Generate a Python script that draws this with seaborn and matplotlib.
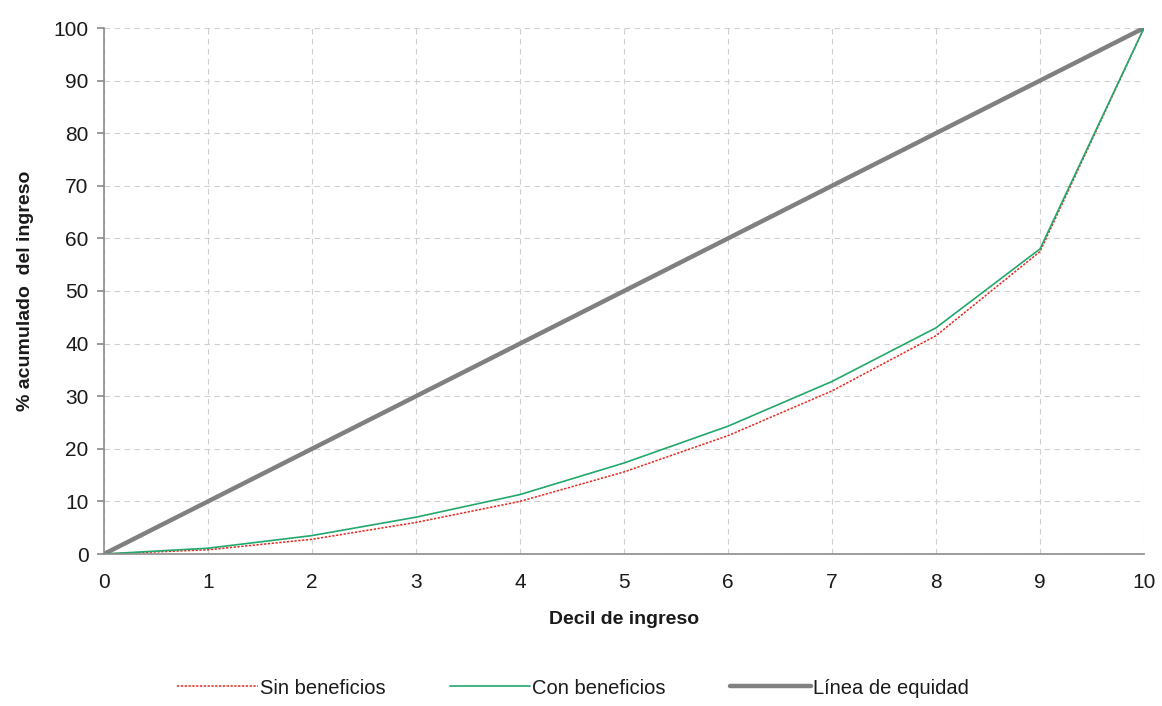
import pandas as pd
import matplotlib.pyplot as plt
import seaborn as sns

sns.set_theme(style="white")
plt.rcParams["font.family"] = ["Liberation Sans", "DejaVu Sans"]
plt.rcParams["text.color"] = "#1a1a1a"
plt.rcParams["axes.labelcolor"] = "#1a1a1a"
plt.rcParams["xtick.color"] = "#1a1a1a"
plt.rcParams["ytick.color"] = "#1a1a1a"

# Datos
deciles = [0, 1, 2, 3, 4, 5, 6, 7, 8, 9, 10]
sin_beneficios = [0, 0.8, 2.8, 6.0, 10.0, 15.6, 22.5, 31.0, 41.5, 57.5, 100]
con_beneficios = [0, 1.1, 3.5, 7.0, 11.3, 17.3, 24.3, 32.8, 43.0, 58.0, 100]
equidad = [0, 10, 20, 30, 40, 50, 60, 70, 80, 90, 100]

data = pd.DataFrame({"Decil": deciles,
                     "Sin beneficios": sin_beneficios,
                     "Con beneficios": con_beneficios,
                     "Línea de equidad": equidad})

fig = plt.figure(figsize=(11.62, 7.06), dpi=100)
ax = fig.add_axes([104 / 1162, (706 - 554) / 706, 1040 / 1162, 526 / 706])

sns.lineplot(data=data, x="Decil", y="Sin beneficios", ax=ax, color="#e8281e",
             linestyle=(0, (1.5, 1)), linewidth=1.1, label="Sin beneficios")
sns.lineplot(data=data, x="Decil", y="Con beneficios", ax=ax, color="#21a86c",
             linewidth=1.2, label="Con beneficios")
sns.lineplot(data=data, x="Decil", y="Línea de equidad", ax=ax, color="#808080",
             linewidth=3.2, label="Línea de equidad", zorder=1)

ax.set_xlim(0, 10)
ax.set_ylim(0, 100)
ax.set_xticks(range(0, 11))
ax.set_yticks(range(0, 101, 10))
ax.grid(True, color="#d0d0d0", linestyle=(0, (5, 4)), linewidth=0.8)
ax.set_axisbelow(True)

for s in ["top", "right"]:
    ax.spines[s].set_visible(False)
for s in ["left", "bottom"]:
    ax.spines[s].set_color("#8c8c8c")
    ax.spines[s].set_linewidth(1.2)

ax.tick_params(axis="y", left=True, length=5, color="#8c8c8c", labelsize=15, pad=6)
ax.tick_params(axis="x", bottom=False, labelsize=15, pad=8)
ax.set_xlabel("Decil de ingreso", fontsize=14, fontweight="bold", labelpad=13)
ax.set_ylabel("% acumulado  del ingreso", fontsize=14, fontweight="bold", labelpad=14)

handles, labels = ax.get_legend_handles_labels()
ax.get_legend().remove()
fig.legend(handles, labels, loc="center", bbox_to_anchor=(0.493, 1 - 688 / 706), ncol=3,
           frameon=False, fontsize=14.5, handlelength=4, columnspacing=3.2, handletextpad=0.1)

plt.savefig("out.png", dpi=100)
plt.close()
